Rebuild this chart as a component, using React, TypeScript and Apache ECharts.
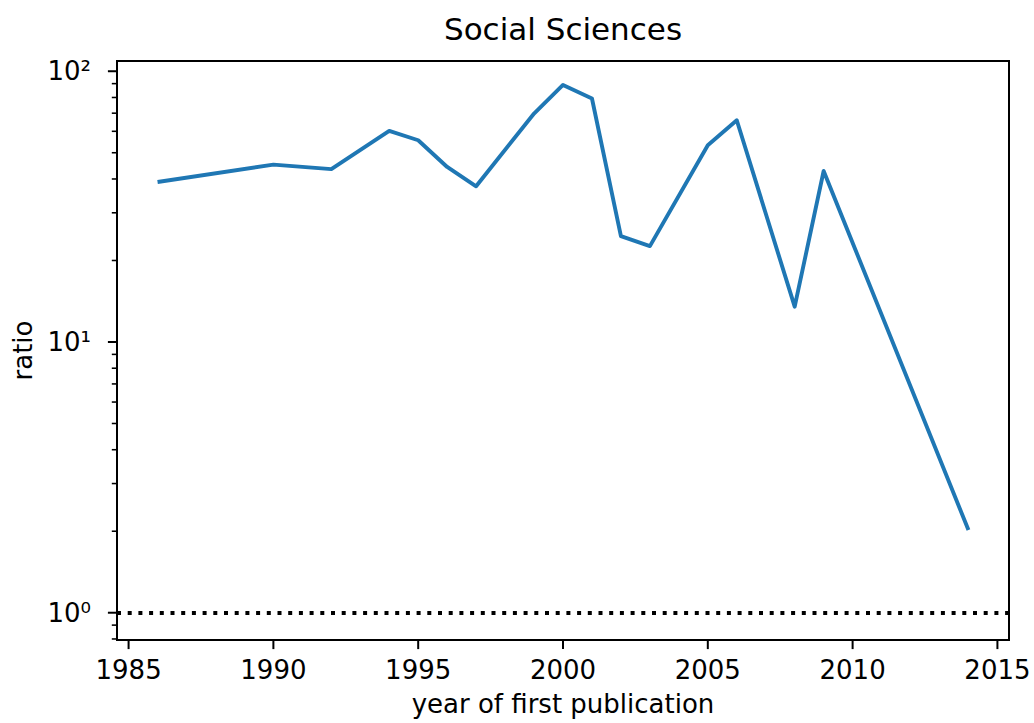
import React, { useEffect, useRef } from 'react';
import * as echarts from 'echarts';

// ---- data ----
const years = [1986, 1990, 1992, 1994, 1995, 1996, 1997, 1999, 2000, 2001, 2002, 2003, 2005, 2006, 2008, 2009, 2014];
const ratios = [39.0, 45.2, 43.5, 60.2, 55.6, 44.3, 37.6, 69.8, 89.0, 79.3, 24.6, 22.6, 53.3, 65.9, 13.5, 42.8, 2.02];
const xTicks = [1985, 1990, 1995, 2000, 2005, 2010, 2015];
const yMajorTicks = [1, 10, 100];
const yTickLabels = ['10⁰', '10¹', '10²'];
const yMinorTicks = [0.8, 0.9, 2, 3, 4, 5, 6, 7, 8, 9, 20, 30, 40, 50, 60, 70, 80, 90];
const referenceLevel = 1;
const titleText = 'Social Sciences';
const xName = 'year of first publication';
const yName = 'ratio';

const X_MIN = 1984.6;
const X_MAX = 2015.4;
const Y_MIN = 0.793;
const Y_MAX = 109.1;

export default function App() {
  const ref = useRef<HTMLDivElement>(null);

  useEffect(() => {
    if (!ref.current) return;
    const chart = echarts.init(ref.current, null, { renderer: 'svg' });
    const font = 'DejaVu Sans';
    const GL = 117, GT = 61, GW = 892, GH = 579;

    const tickSeries = (data: number[][], render: any) => ({
      type: 'custom',
      coordinateSystem: 'cartesian2d',
      silent: true,
      clip: false,
      z: 6,
      data,
      renderItem: render,
    });

    chart.setOption({
      animation: false,
      backgroundColor: '#ffffff',
      title: {
        text: titleText,
        left: GL + GW / 2,
        top: 13.5,
        padding: 0,
        textAlign: 'center',
        textVerticalAlign: 'top',
        textStyle: { fontFamily: font, fontSize: 31, lineHeight: 31, fontWeight: 'normal', color: '#000' },
      },
      grid: {
        left: GL, top: GT, width: GW, height: GH,
        show: true, borderColor: '#000', borderWidth: 2, backgroundColor: 'transparent',
        containLabel: false,
      },
      xAxis: {
        type: 'value', min: X_MIN, max: X_MAX,
        axisLine: { show: false }, axisTick: { show: false }, splitLine: { show: false },
        axisLabel: {
          margin: 17, fontFamily: font, fontSize: 26, lineHeight: 26, color: '#000',
          formatter: (v: number) => {
            const r = Math.round(v);
            return Math.abs(v - r) < 1e-6 && xTicks.includes(r) ? String(r) : '';
          },
        },
      },
      yAxis: {
        type: 'log', logBase: 10, min: Y_MIN, max: Y_MAX,
        axisLine: { show: false }, axisTick: { show: false }, splitLine: { show: false },
        minorTick: { show: false }, minorSplitLine: { show: false },
        axisLabel: {
          margin: 26, fontFamily: font, fontSize: 26, lineHeight: 26, color: '#000',
          formatter: (v: number) => {
            const i = yMajorTicks.findIndex((t) => Math.abs(v - t) / t < 1e-6);
            return i >= 0 ? yTickLabels[i] : '';
          },
        },
      },
      graphic: [
        {
          type: 'text', x: GL + GW / 2, y: 704,
          style: { text: xName, align: 'center', verticalAlign: 'middle', fontFamily: font, fontSize: 26, fill: '#000' },
        },
        {
          type: 'text', x: 22.6, y: GT + GH / 2, rotation: Math.PI / 2,
          style: { text: yName, align: 'center', verticalAlign: 'middle', fontFamily: font, fontSize: 26, fill: '#000' },
        },
      ],
      series: [
        {
          type: 'line',
          data: years.map((y, i) => [y, ratios[i]]),
          symbol: 'none',
          showSymbol: false,
          lineStyle: { color: '#1f77b4', width: 3.9, join: 'round', cap: 'butt' },
          emphasis: { disabled: true },
          z: 3,
          markLine: {
            silent: true,
            symbol: 'none',
            label: { show: false },
            lineStyle: { color: '#000', width: 3.9, type: [4, 6.7], cap: 'butt' },
            data: [{ yAxis: referenceLevel }],
          },
        },
        tickSeries(xTicks.map((v) => [v, Y_MIN]), (params: any, api: any) => {
          const p = api.coord([api.value(0), Y_MIN]);
          return { type: 'line', shape: { x1: p[0], y1: p[1], x2: p[0], y2: p[1] + 9.1 }, style: { stroke: '#000', lineWidth: 2 } };
        }),
        tickSeries(yMajorTicks.map((v) => [X_MIN, v]), (params: any, api: any) => {
          const p = api.coord([X_MIN, api.value(1)]);
          return { type: 'line', shape: { x1: p[0] - 9.1, y1: p[1], x2: p[0], y2: p[1] }, style: { stroke: '#000', lineWidth: 2 } };
        }),
        tickSeries(yMinorTicks.map((v) => [X_MIN, v]), (params: any, api: any) => {
          const p = api.coord([X_MIN, api.value(1)]);
          return { type: 'line', shape: { x1: p[0] - 5.2, y1: p[1], x2: p[0], y2: p[1] }, style: { stroke: '#000', lineWidth: 1.56 } };
        }),
      ],
    });

    return () => chart.dispose();
  }, []);

  return (
    <div
      ref={ref}
      style={{ position: 'fixed', left: 0, top: 0, width: 1034, height: 723, background: '#ffffff' }}
    />
  );
}
